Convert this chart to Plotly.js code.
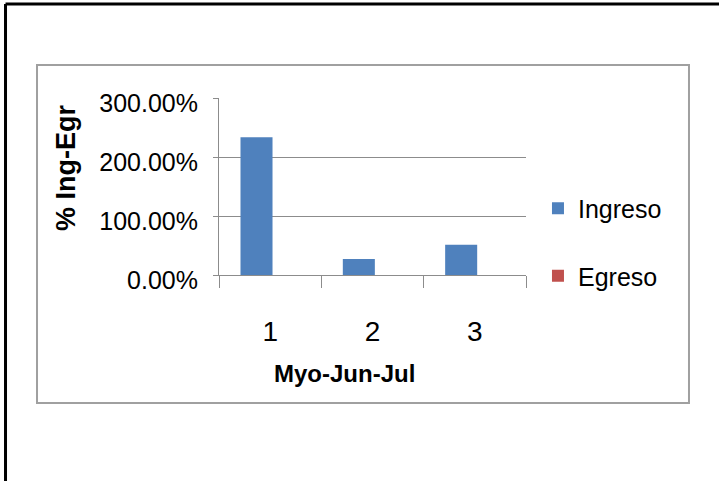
<!DOCTYPE html>
<html>
<head>
<meta charset="utf-8">
<script src="https://cdn.plot.ly/plotly-3.0.1.min.js"></script>
<style>
  html, body { margin: 0; padding: 0; background: #ffffff; }
  #chart { width: 719px; height: 481px; }
</style>
</head>
<body>
<div id="chart"></div>
<script>
// Data
const categories = ["1", "2", "3"];
const ingreso = [2.335, 0.271, 0.513];   // fractions (233.5%, 27.1%, 51.3%)
const egreso = [0, 0, 0];
const seriesNames = ["Ingreso", "Egreso"];
const xTitle = "Myo-Jun-Jul";
const yTitle = "% Ing-Egr";

const FONT = "Liberation Sans, Arial, sans-serif";

const traces = [
  {
    type: "bar",
    name: seriesNames[0],
    x: categories,
    y: ingreso,
    width: 0.313,
    offset: -0.29,
    marker: { color: "#4F81BD" },
    legendgroup: "g1",
    hoverinfo: "skip"
  },
  {
    type: "bar",
    name: seriesNames[1],
    x: categories,
    y: egreso,
    width: 0.313,
    offset: 0.023,
    marker: { color: "#C0504D" },
    legendgroup: "g2",
    hoverinfo: "skip"
  }
];

const layout = {
  width: 719,
  height: 481,
  margin: { l: 219, r: 193, t: 98, b: 206, pad: 0 },
  paper_bgcolor: "#ffffff",
  plot_bgcolor: "#ffffff",
  barmode: "group",
  bargap: 0.374,
  bargroupgap: 0,
  font: { family: FONT, color: "#000000" },
  showlegend: true,
  legend: {
    x: 1.039, xanchor: "left",
    y: 0.505, yanchor: "top",
    font: { family: FONT, size: 25, color: "#000000" },
    tracegroupgap: 32,
    traceorder: "grouped",
    bgcolor: "rgba(0,0,0,0)",
    borderwidth: 0
  },
  xaxis: {
    type: "category",
    range: [-0.5, 2.5],
    tickson: "boundaries",
    ticks: "outside",
    ticklen: 12,
    tickcolor: "#8c8c8c",
    tickwidth: 1,
    showline: true,
    linecolor: "#8c8c8c",
    linewidth: 1,
    showgrid: false,
    zeroline: false,
    tickfont: { family: FONT, size: 28, color: "#000000" },
    ticklabelstandoff: 31,
    fixedrange: true
  },
  yaxis: {
    range: [0, 3],
    dtick: 1,
    tickformat: ".2%",
    ticks: "outside",
    ticklen: 5,
    tickcolor: "#8c8c8c",
    tickwidth: 1,
    showline: true,
    linecolor: "#8c8c8c",
    linewidth: 1,
    showgrid: true,
    gridcolor: "#8c8c8c",
    gridwidth: 1,
    zeroline: false,
    tickfont: { family: FONT, size: 25, color: "#000000" },
    ticklabelstandoff: 10,
    ticklabelshift: 5,
    fixedrange: true
  },
  annotations: [
    {
      text: "<b>" + xTitle + "</b>",
      xref: "paper", yref: "paper",
      x: 0.4104, y: -0.5537,
      xanchor: "center", yanchor: "middle",
      showarrow: false,
      font: { family: FONT, size: 24, color: "#000000" }
    },
    {
      text: "<b>" + yTitle + "</b>",
      xref: "paper", yref: "paper",
      x: -0.4984, y: 0.6045,
      xanchor: "center", yanchor: "middle",
      textangle: -90,
      showarrow: false,
      font: { family: FONT, size: 27, color: "#000000" }
    }
  ],
  shapes: [
    // inner chart-area frame
    {
      type: "rect", xref: "paper", yref: "paper",
      x0: -0.5928, x1: 1.5309, y0: -0.7232, y1: 1.1864,
      line: { color: "#a0a0a0", width: 2 },
      fillcolor: "rgba(0,0,0,0)", layer: "below"
    },
    // outer black border: left and top edges
    {
      type: "line", xref: "paper", yref: "paper",
      x0: -0.6954, x1: -0.6954, y0: 1.5311, y1: -1.2,
      line: { color: "#000000", width: 3 }
    },
    {
      type: "line", xref: "paper", yref: "paper",
      x0: -0.6954, x1: 1.7, y0: 1.5311, y1: 1.5311,
      line: { color: "#000000", width: 3 }
    }
  ]
};

Plotly.newPlot("chart", traces, layout, { displayModeBar: false, staticPlot: true });
</script>
</body>
</html>
